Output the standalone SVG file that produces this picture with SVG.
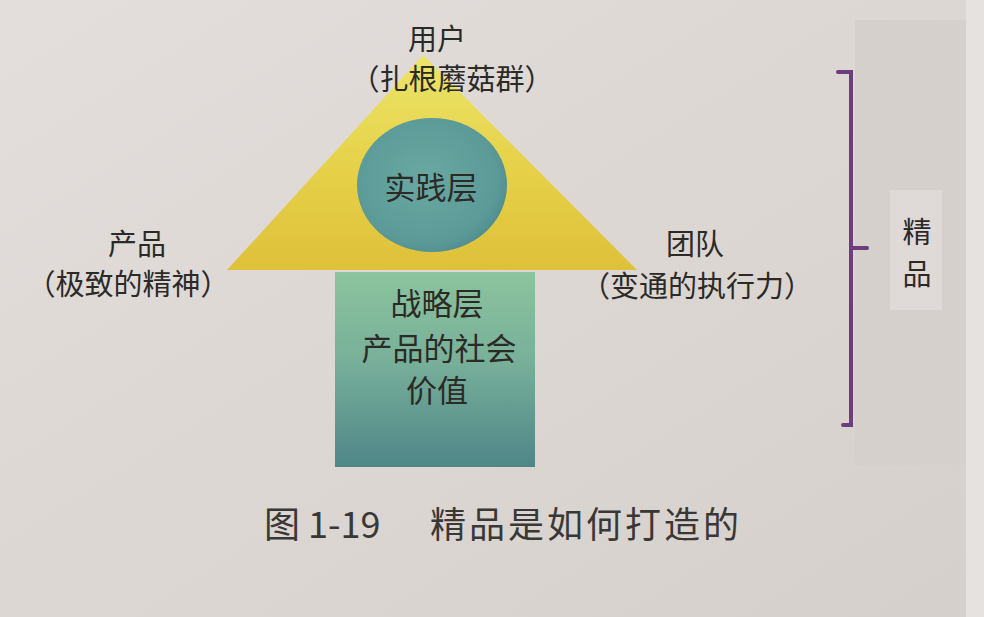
<svg xmlns="http://www.w3.org/2000/svg" width="984" height="617" viewBox="0 0 984 617">
<defs>
<linearGradient id="tri" x1="0" y1="0" x2="0" y2="1">
<stop offset="0" stop-color="#ece56a"/>
<stop offset="0.5" stop-color="#e6d24a"/>
<stop offset="1" stop-color="#dfc03a"/>
</linearGradient>
<radialGradient id="circ" cx="0.45" cy="0.45" r="0.6">
<stop offset="0" stop-color="#6aa8a2"/>
<stop offset="0.8" stop-color="#5c9a98"/>
<stop offset="1" stop-color="#4f8a8e"/>
</radialGradient>
<linearGradient id="rect" x1="0" y1="0" x2="0" y2="1">
<stop offset="0" stop-color="#8cc49e"/>
<stop offset="0.45" stop-color="#78b09a"/>
<stop offset="1" stop-color="#4f8688"/>
</linearGradient>
<linearGradient id="bg" x1="0" y1="0" x2="1" y2="1">
<stop offset="0" stop-color="#e3dedb"/>
<stop offset="1" stop-color="#d6d0cc"/>
</linearGradient>
</defs>
<style>
text{font-family:"Noto Sans CJK SC","Noto Sans",sans-serif;fill:#2b2a27;text-anchor:middle}
.lbl{font-size:29px}
.in{font-size:31px}
.cap{font-size:36px;fill:#3a3836;text-anchor:start}
.br{stroke:#6c3e7c;stroke-width:4;fill:none;stroke-linecap:round}
</style>
<rect x="0" y="0" width="984" height="617" fill="url(#bg)"/>
<rect x="855" y="20" width="112" height="445" fill="#d6d0cc"/>
<rect x="890" y="190" width="52" height="120" fill="#dfdad7"/>
<rect x="966" y="0" width="18" height="617" fill="#e6e2df"/>
<g id="triangle-node">
<polygon points="423,55 227,270 637,270" fill="url(#tri)"/>
</g>
<g id="practice-node">
<ellipse cx="432" cy="185" rx="75" ry="67" fill="url(#circ)"/>
<text class="in" x="431" y="199">实践层</text>
</g>
<g id="strategy-node">
<rect x="335" y="272" width="200" height="195" fill="url(#rect)"/>
<text class="in" x="437" y="315">战略层</text>
<text class="in" x="439" y="360">产品的社会</text>
<text class="in" x="437" y="402">价值</text>
</g>
<g id="user-node">
<text class="lbl" x="437" y="50">用户</text>
<text class="lbl" x="452" y="90">（扎根蘑菇群）</text>
</g>
<g id="product-node">
<text class="lbl" x="137" y="255">产品</text>
<text class="lbl" x="128" y="295">（极致的精神）</text>
</g>
<g id="team-node">
<text class="lbl" x="695" y="255">团队</text>
<text class="lbl" x="697" y="297">（变通的执行力）</text>
</g>
<g id="connectors">
<path class="br" d="M838,72 H851 V425 H843 M851,248 H867"/>
</g>
<g id="jingpin-node">
<text class="lbl" x="917" y="243">精</text>
<text class="lbl" x="917" y="285">品</text>
</g>
<g id="caption">
<text class="cap" x="264" y="538">图 1-19</text>
<text class="cap" x="430" y="538" letter-spacing="3">精品是如何打造的</text>
</g>
</svg>
